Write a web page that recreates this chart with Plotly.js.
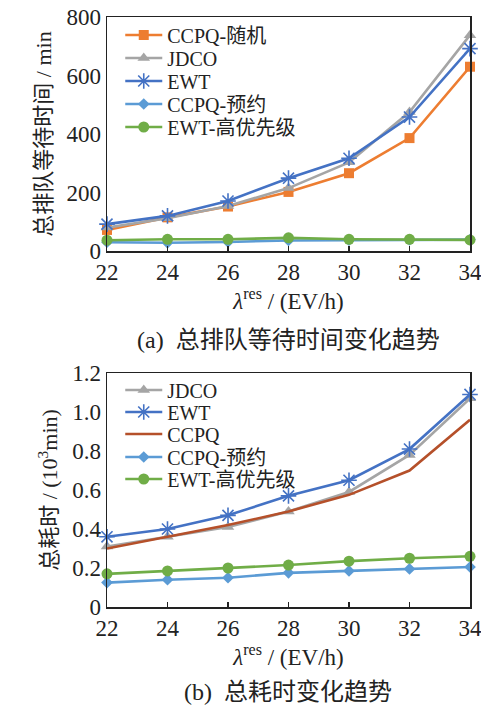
<!DOCTYPE html>
<html><head><meta charset="utf-8">
<script src="https://cdn.plot.ly/plotly-3.0.1.min.js"></script>
<style>html,body{margin:0;padding:0;background:#fff}#c{width:481px;height:713px}</style>
</head><body><div id="c"></div>
<script>
const xCats = [22, 24, 26, 28, 30, 32, 34];
// Panel (a): total queueing wait time (min)
const waitCCPQRandom = [72, 115, 152, 202, 266, 386, 630];
const waitJDCO = [80, 112, 154, 215, 303, 475, 738];
const waitEWT = [92, 120, 171, 249, 317, 458, 692];
const waitCCPQReserve = [30, 28, 31, 36, 37, 38, 39];
const waitEWTHigh = [37, 40, 40, 45, 40, 40, 38];
// Panel (b): total time (10^3 min)
const timeJDCO = [0.31, 0.36, 0.41, 0.49, 0.59, 0.78, 1.07];
const timeEWT = [0.36, 0.40, 0.47, 0.57, 0.65, 0.81, 1.09];
const timeCCPQ = [0.30, 0.36, 0.42, 0.49, 0.575, 0.70, 0.96];
const timeCCPQReserve = [0.125, 0.14, 0.15, 0.175, 0.185, 0.195, 0.205];
const timeEWTHigh = [0.17, 0.185, 0.20, 0.215, 0.235, 0.25, 0.26];
const yTicksA = [0, 200, 400, 600, 800];
const yTicksB = [0, 0.2, 0.4, 0.6, 0.8, 1.0, 1.2];
const yTickTextB = ['0', '0.2', '0.4', '0.6', '0.8', '1.0', '1.2'];

const C = {orange:'#ED7D31', gray:'#A5A5A5', blue:'#4472C4', lblue:'#5B9BD5', green:'#70AD47', brown:'#B5502A'};
const serif = 'Liberation Serif, Noto Sans CJK SC, serif';
const lw = 2.6;
function tr(y, name, color, sym, size, xa, ya, lg, mode) {
  return {x: xCats, y: y, name: name, type: 'scatter', mode: mode || 'lines+markers', xaxis: xa, yaxis: ya, legend: lg,
    cliponaxis: false,
    line: {color: color, width: lw},
    marker: {color: color, symbol: sym, size: size, line: {color: color, width: sym.indexOf('asterisk') >= 0 ? 1.6 : 0}}};
}
const data = [
  tr(waitCCPQRandom, 'CCPQ-随机', C.orange, 'square', 10, 'x', 'y', 'legend'),
  tr(waitJDCO, 'JDCO', C.gray, 'triangle-up', 11, 'x', 'y', 'legend2'),
  tr(waitEWT, 'EWT', C.blue, 'asterisk-open', 13, 'x', 'y', 'legend3'),
  tr(waitCCPQReserve, 'CCPQ-预约', C.lblue, 'diamond', 9, 'x', 'y', 'legend4'),
  tr(waitEWTHigh, 'EWT-高优先级', C.green, 'circle', 11, 'x', 'y', 'legend5'),
  tr(timeJDCO, 'JDCO', C.gray, 'triangle-up', 11, 'x2', 'y2', 'legend6'),
  tr(timeEWT, 'EWT', C.blue, 'asterisk-open', 13, 'x2', 'y2', 'legend7'),
  tr(timeCCPQ, 'CCPQ', C.brown, 'circle', 1, 'x2', 'y2', 'legend8', 'lines'),
  tr(timeCCPQReserve, 'CCPQ-预约', C.lblue, 'diamond', 9, 'x2', 'y2', 'legend9'),
  tr(timeEWTHigh, 'EWT-高优先级', C.green, 'circle', 11, 'x2', 'y2', 'legend10'),
];
const xd = [107/481, 470/481];
const tickFont = {family: serif, size: 23, color: '#222'};
function xax(anchor) {
  return {domain: xd, anchor: anchor, range: [22, 34], tickvals: xCats, ticks: 'inside', ticklen: 5, tickwidth: 1.5, tickcolor: '#222',
    showline: true, linecolor: '#222', linewidth: 1.5, mirror: true, showgrid: false, zeroline: false, tickfont: tickFont,
    ticklabeloverflow: 'allow',
    title: {text: '<i>λ</i><sup>res</sup> / (EV/h)', font: {family: serif, size: 23, color: '#222'}, standoff: 6}};
}
function yax(anchor, dom, range, tv, tt, title) {
  return {domain: dom, anchor: anchor, range: range, tickvals: tv, ticktext: tt, ticks: '', showline: true, linecolor: '#222', linewidth: 1.5,
    mirror: true, showgrid: false, zeroline: false, tickfont: tickFont, ticklabeloverflow: 'allow',
    title: {text: title, font: {family: serif, size: 22, color: '#222'}, standoff: 8}};
}
const legCenters = [35, 58, 81, 104, 127, 390, 412, 434, 457, 479];
function leg(yc) {
  return {x: 0.25, y: 1 - yc/713, xanchor: 'left', yanchor: 'middle', bgcolor: 'rgba(0,0,0,0)', borderwidth: 0,
    font: {family: serif, size: 20, color: '#222'}, itemwidth: 37};
}
const layout = {
  width: 481, height: 713, margin: {l: 0, r: 0, t: 0, b: 0}, paper_bgcolor: '#fff', plot_bgcolor: '#fff', showlegend: true,
  xaxis: xax('y'), xaxis2: xax('y2'),
  yaxis: yax('x', [1 - 251/713, 1 - 17/713], [0, 800], yTicksA, yTicksA.map(String), '总排队等待时间 / min'),
  yaxis2: yax('x2', [1 - 607/713, 1 - 373/713], [0, 1.2], yTicksB, yTickTextB, '总耗时 / (10<sup>3</sup>min)'),
  annotations: [
    {text: '(a)  总排队等待时间变化趋势', xref: 'paper', yref: 'paper', x: 288/481, y: 1 - 340/713, xanchor: 'center', yanchor: 'middle', showarrow: false, font: {family: serif, size: 24, color: '#222'}},
    {text: '(b)  总耗时变化趋势', xref: 'paper', yref: 'paper', x: 288/481, y: 1 - 692/713, xanchor: 'center', yanchor: 'middle', showarrow: false, font: {family: serif, size: 24, color: '#222'}}
  ]
};
legCenters.forEach((yc, i) => { layout[i === 0 ? 'legend' : 'legend' + (i + 1)] = leg(yc); });
Plotly.newPlot('c', data, layout, {staticPlot: true});
</script></body></html>
